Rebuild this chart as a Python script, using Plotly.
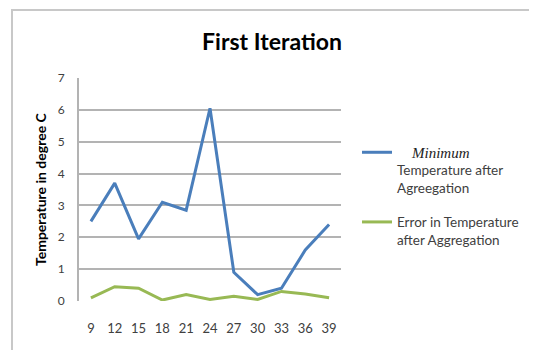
import plotly.graph_objects as go

categories = ["9", "12", "15", "18", "21", "24", "27", "30", "33", "36", "39"]
min_temp = [2.5, 3.7, 1.95, 3.1, 2.85, 6.05, 0.9, 0.2, 0.4, 1.6, 2.4]
error_temp = [0.1, 0.45, 0.4, 0.03, 0.2, 0.05, 0.15, 0.05, 0.3, 0.22, 0.1]
y_ticks = [0, 1, 2, 3, 4, 5, 6, 7]

# page body adds an 8px offset; work in figure coordinates
W, H = 529, 342
L, R, T, B = 71, 196, 70, 49
pw, ph = W - L - R, H - T - B

def px(x):
    return (x - L) / pw

def py(y):
    return (H - B - y) / ph

fig = go.Figure()
fig.add_trace(go.Scatter(
    x=categories, y=min_temp, mode="lines",
    line=dict(color="#4a7ebb", width=3), legendgroup="a",
    name=("<span style='font-family:\"Liberation Serif\";font-size:15px;color:#222222'>"
          "&nbsp;&nbsp;&nbsp;&nbsp;<i>Minimum</i></span><br>Temperature after<br>Agreegation"),
))
fig.add_trace(go.Scatter(
    x=categories, y=error_temp, mode="lines",
    line=dict(color="#98b954", width=3), legendgroup="b",
    name="Error in Temperature<br>after Aggregation",
))

fig.update_layout(
    width=W, height=H,
    margin=dict(l=L, r=R, t=T, b=B),
    paper_bgcolor="white", plot_bgcolor="white",
    font=dict(family="Lato", color="#404040", size=12),
    title=dict(text="<b>First Iteration</b>", x=264 / W, xanchor="center",
               y=1 - 34 / H, yanchor="middle",
               font=dict(family="Lato", size=23, color="#000000")),
    showlegend=True,
    legend=dict(x=px(349), y=py(129), xanchor="left", yanchor="top",
                valign="top", tracegroupgap=14, itemwidth=30,
                font=dict(family="Lato", size=13.5, color="#404040"),
                bgcolor="rgba(0,0,0,0)"),
    xaxis=dict(type="category", range=[-0.5, 10.5], showgrid=False,
               showline=False, zeroline=False, ticks="",
               ticklabelstandoff=18,
               tickfont=dict(family="Lato", size=13, color="#404040")),
    yaxis=dict(range=[0, 7], tickvals=y_ticks, showgrid=True,
               gridcolor="#b3b3b3", gridwidth=2, zeroline=False,
               showline=True, linecolor="#b3b3b3", linewidth=2,
               ticks="", ticklabelstandoff=10,
               tickfont=dict(family="Lato", size=12, color="#404040")),
    shapes=[dict(type="rect", xref="paper", yref="paper",
                 x0=px(4), x1=px(545), y0=py(360), y1=py(2),
                 line=dict(color="#c8c8c8", width=2), layer="below")],
    annotations=[dict(text="<b>Temperature in degree C</b>", textangle=-90,
                      xref="paper", yref="paper", x=px(32), y=py(181),
                      xanchor="center", yanchor="middle", showarrow=False,
                      font=dict(family="Lato", size=14, color="#000000"))],
)

fig.write_html("out.html")
